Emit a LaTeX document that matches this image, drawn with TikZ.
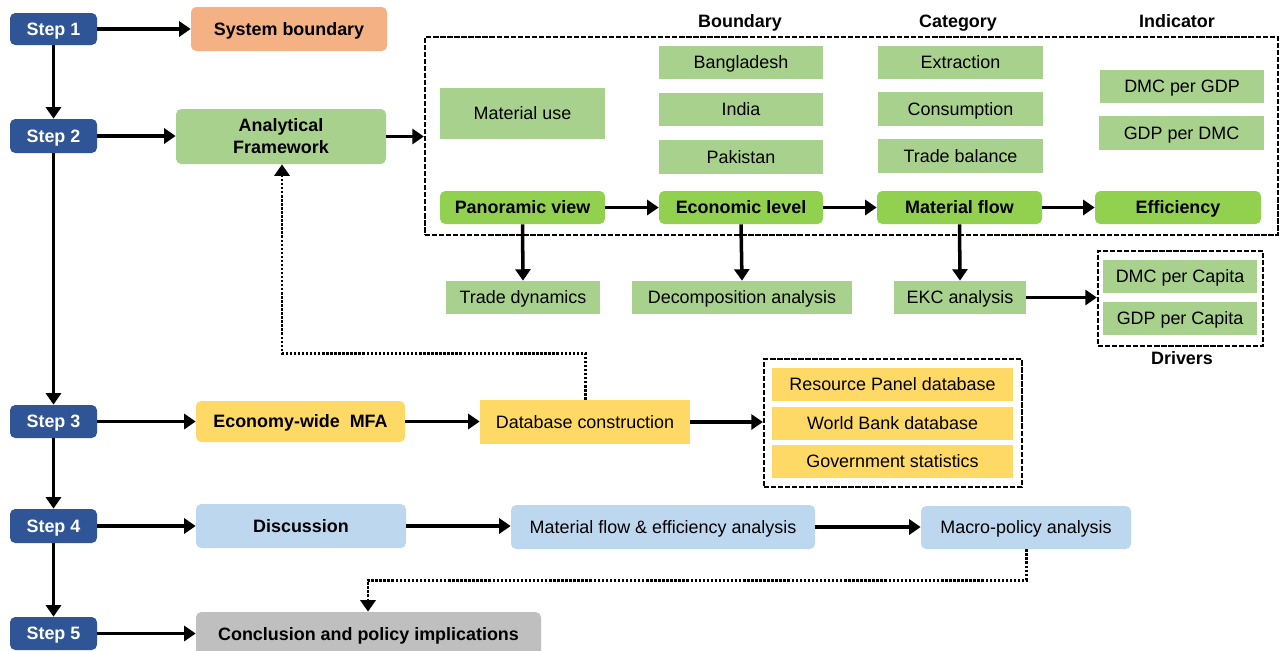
\documentclass[tikz,border=0pt]{standalone}
\usepackage{fontspec}
\setmainfont{Liberation Sans}
\usetikzlibrary{arrows.meta,calc}
\definecolor{stepblue}{HTML}{2F5597}
\definecolor{orbox}{HTML}{F4B183}
\definecolor{lgreen}{HTML}{A9D18E}
\definecolor{bgreen}{HTML}{92D050}
\definecolor{ybox}{HTML}{FFD966}
\definecolor{lblue}{HTML}{BDD7EE}
\definecolor{gbox}{HTML}{BFBFBF}
\newcommand\bx[7]{\node[#6, minimum width={(#4-#2)*0.02cm}, minimum height={(#5-#3)*0.02cm}] (#1) at ({(#2+#4)/2},{(#3+#5)/2}) {#7};}
\tikzset{
  base/.style={inner sep=0pt, text=black, align=center, font=\fontsize{10.2}{12}\selectfont, text height=0.716em, text depth=0pt},
  bold/.style={font=\fontsize{10.2}{12.5}\selectfont\bfseries},
  rnd/.style={rounded corners=3pt},
  stepbox/.style={base, rnd, fill=stepblue, text=white, bold},
  orb/.style={base, rnd, fill=orbox, bold},
  lg/.style={base, fill=lgreen},
  bg/.style={base, rnd, fill=bgreen, bold},
  yl/.style={base, fill=ybox},
  lb/.style={base, rnd, fill=lblue},
  gy/.style={base, rnd, fill=gbox, bold},
  dbox/.style={base, draw=black, line width=1.3pt, dash pattern=on 3pt off 1pt},
  hdr/.style={base, bold},
  arr/.style={draw=black, line width=2pt, -{Triangle[length=6.5pt,width=8.5pt]}},
  dotarr/.style={draw=black, line width=1.7pt, dash pattern=on 1.4pt off 0.9pt, -{Triangle[length=6.5pt,width=8.5pt]}},
}
\begin{document}
\begin{tikzpicture}[x=0.02cm,y=-0.02cm]
\useasboundingbox[fill=white] (0,0) rectangle (1281,650);
% steps
\bx{s1}{10}{13}{97}{45}{stepbox}{Step 1}
\bx{s2}{10}{119}{97}{153}{stepbox}{Step 2}
\bx{s3}{10}{405}{97}{438}{stepbox}{Step 3}
\bx{s4}{10}{509}{97}{543}{stepbox}{Step 4}
\bx{s5}{10}{617}{97}{650}{stepbox}{Step 5}
% step 1 and 2
\bx{sb}{191}{7}{387}{51}{orb}{System boundary}
\bx{af}{176}{109}{386}{164}{lg,rnd,bold,text height=,text depth=}{Analytical\\Framework}
\bx{fw}{425}{37}{1278}{235}{dbox}{}
\node[hdr] (hb) at (740,21) {Boundary};
\node[hdr] (hc) at (958,21) {Category};
\node[hdr] (hi) at (1177,21) {Indicator};
\bx{mu}{440}{88}{605}{139}{lg}{Material use}
\bx{bd}{659}{46}{823}{79}{lg}{Bangladesh}
\bx{in}{659}{93}{823}{126}{lg}{India}
\bx{pk}{659}{140}{823}{174}{lg}{Pakistan}
\bx{ex}{878}{46}{1043}{79}{lg}{Extraction}
\bx{co}{878}{92}{1043}{126}{lg}{Consumption}
\bx{tb}{878}{139}{1043}{173}{lg}{Trade balance}
\bx{dg}{1100}{70}{1264}{103}{lg}{DMC per GDP}
\bx{gd}{1099}{116}{1264}{150}{lg}{GDP per DMC}
\bx{pv}{440}{191}{605}{224}{bg}{Panoramic view}
\bx{el}{659}{191}{823}{224}{bg}{Economic level}
\bx{mf}{877}{191}{1042}{224}{bg}{Material flow}
\bx{ef}{1095}{191}{1261}{224}{bg}{Efficiency}
\bx{td}{446}{281}{600}{314}{lg}{Trade dynamics}
\bx{da}{632}{281}{852}{314}{lg}{Decomposition analysis}
\bx{ekc}{894}{281}{1026}{314}{lg}{EKC analysis}
\bx{drv}{1098}{251}{1263}{346}{dbox}{}
\bx{dc}{1103}{260}{1257}{293}{lg}{DMC per Capita}
\bx{gc}{1103}{302}{1257}{335}{lg}{GDP per Capita}
\node[hdr] (dl) at (1182,358) {Drivers};
% step 3
\bx{mfa}{196}{401}{405}{442}{yl,rnd,bold}{Economy-wide\ \ MFA}
\bx{dbc}{480}{400}{690}{444}{yl}{Database construction}
\bx{dbb}{764}{359}{1022}{487}{dbox}{}
\bx{rp}{772}{368}{1013}{401}{yl}{Resource Panel database}
\bx{wb}{772}{407}{1013}{440}{yl}{World Bank database}
\bx{gs}{772}{445}{1013}{478}{yl}{Government statistics}
% step 4, 5
\bx{di}{196}{504}{406}{548}{lb,bold}{Discussion}
\bx{mfe}{511}{505}{815}{549}{lb}{Material flow \& efficiency analysis}
\bx{mp}{921}{506}{1131}{549}{lb}{Macro-policy analysis}
\bx{cp}{196}{612}{541}{656}{gy}{Conclusion and policy implications}
\coordinate (fb1) at (282,353);
\coordinate (fb2) at (368,580);
% connectors
\draw[arr] (s1.south) -- (s2.north);
\draw[arr] (s2.south) -- (s3.north);
\draw[arr] (s3.south) -- (s4.north);
\draw[arr] (s4.south) -- (s5.north);
\draw[arr] (s1.east) -- (s1.east -| sb.west);
\draw[arr] (s2.east) -- (s2.east -| af.west);
\draw[arr] (af.east) -- (af.east -| fw.west);
\draw[arr] (pv.east) -- (el.west);
\draw[arr] (el.east) -- (mf.west);
\draw[arr] (mf.east) -- (ef.west);
\draw[arr] (pv.south) -- (td.north);
\draw[arr] (el.south) -- (da.north);
\draw[arr] (mf.south) -- (ekc.north);
\draw[arr] (ekc.east) -- (ekc.east -| drv.west);
\draw[arr] (s3.east) -- (s3.east -| mfa.west);
\draw[arr] (mfa.east) -- (mfa.east -| dbc.west);
\draw[arr] (dbc.east) -- (dbc.east -| dbb.west);
\draw[dotarr] (dbc.north) |- (fb1) -- (fb1 |- af.south);
\draw[arr] (s4.east) -- (s4.east -| di.west);
\draw[arr] (di.east) -- (di.east -| mfe.west);
\draw[arr] (mfe.east) -- (mfe.east -| mp.west);
\draw[dotarr] (mp.south) |- (fb2) -- (fb2 |- cp.north);
\draw[arr] (s5.east) -- (s5.east -| cp.west);
\end{tikzpicture}
\end{document}
